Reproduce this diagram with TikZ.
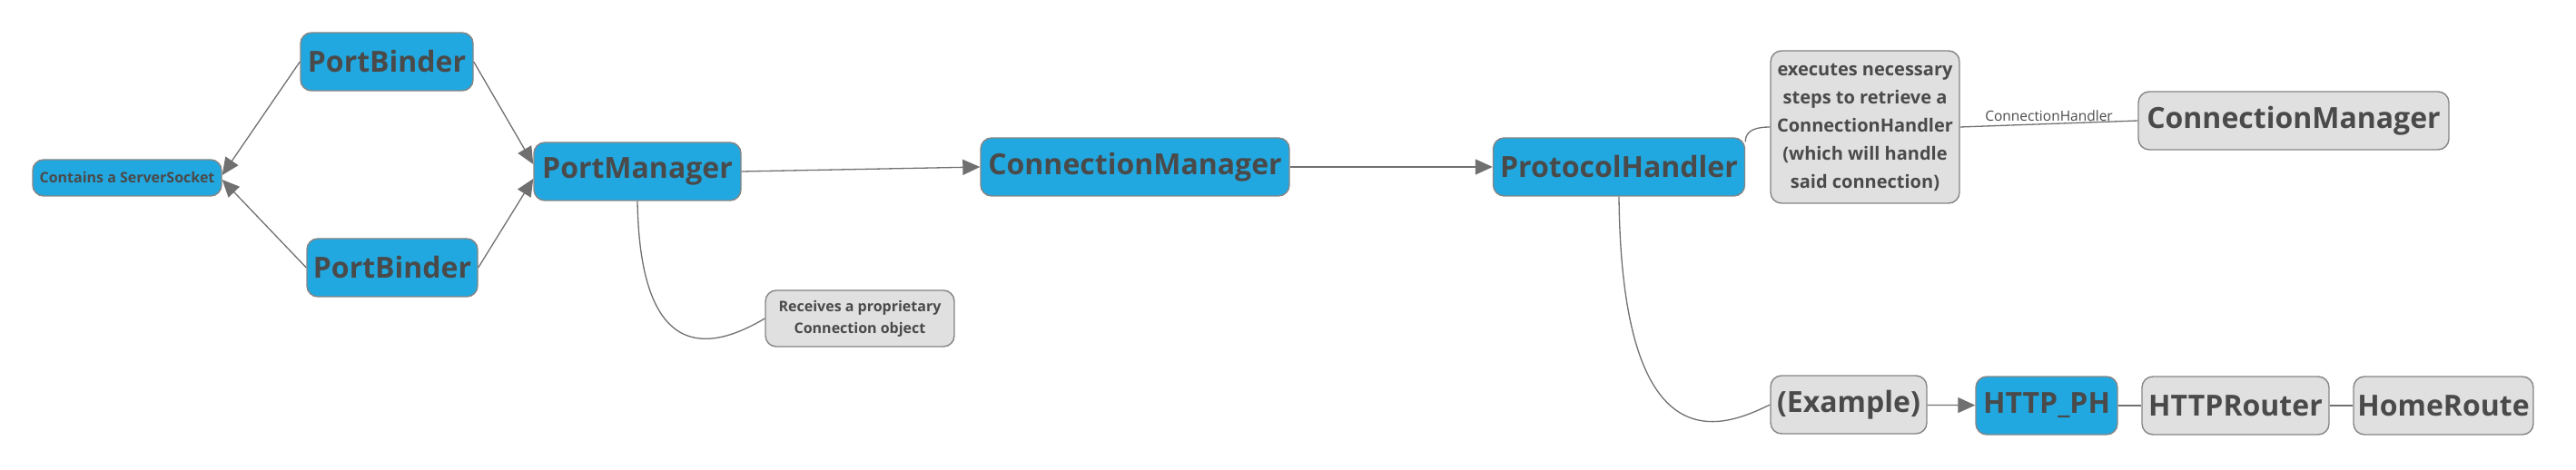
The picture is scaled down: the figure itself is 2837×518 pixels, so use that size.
\documentclass[tikz,border=0pt]{standalone}
\usepackage{fontspec}
\setmainfont{Open Sans}
\usepackage{xcolor}
\usepackage{tikz}
\usetikzlibrary{arrows.meta,positioning}
\definecolor{nodeblue}{HTML}{22A8E0}
\definecolor{nodegrey}{HTML}{E0E0E0}
\definecolor{linegrey}{HTML}{707070}
\definecolor{textgrey}{HTML}{4A4A4A}

\begin{document}
\begin{tikzpicture}[x=1pt, y=-1pt,
  box/.style={draw=linegrey!85, line width=1.4pt, rounded corners=12pt, text=textgrey,
    font=\fontsize{32}{38}\selectfont\bfseries, minimum height=64pt, inner sep=0pt, align=center},
  bluebox/.style={box, fill=nodeblue},
  greybox/.style={box, fill=nodegrey},
  note/.style={font=\fontsize{16}{24}\selectfont\bfseries},
  link/.style={draw=linegrey, line width=1.3pt},
  arr/.style={link, -{Triangle[length=19pt,width=17pt]}}]
  \useasboundingbox (0,0) rectangle (2837,518);
  % ---- binders and port manager
  \node[bluebox, note, minimum width=208pt, minimum height=40pt] (sock) at (140,196) {Contains a ServerSocket};
  \node[bluebox, minimum width=190pt] (pbA) at (426,68) {PortBinder};
  \node[bluebox, minimum width=188pt] (pbB) at (432,295) {PortBinder};
  \node[bluebox, minimum width=228pt] (pm) at (702,189) {PortManager};
  \node[greybox, note, minimum width=208pt, minimum height=62pt] (recv) at (947,351) {Receives a proprietary\\Connection object};
  % ---- connection handling
  \node[bluebox, minimum width=340pt] (cmA) at (1250,184) {ConnectionManager};
  \node[bluebox, minimum width=277pt] (ph) at (1783,184) {ProtocolHandler};
  \node[greybox, font=\fontsize{20}{31}\selectfont\bfseries, minimum width=208pt, minimum height=168pt] (steps) at (2054,140)
    {executes necessary\\steps to retrieve a\\ConnectionHandler\\(which will handle\\said connection)};
  \node[greybox, minimum width=342pt] (cmB) at (2526,133) {ConnectionManager};
  % ---- example chain
  \node[greybox, minimum width=172pt] (ex) at (2036,446) {(Example)};
  \node[bluebox, minimum width=156pt] (http) at (2254,447) {HTTP\_PH};
  \node[greybox, minimum width=206pt] (router) at (2462,447) {HTTPRouter};
  \node[greybox, minimum width=198pt] (home) at (2691,447) {HomeRoute};

  \draw[arr] (pbA.west) -- ([yshift=3pt]sock.east);
  \draw[arr] (pbB.west) -- ([yshift=-2pt]sock.east);
  \draw[arr] (pbA.east) -- ([yshift=8pt]pm.west);
  \draw[arr] (pbB.east) -- ([yshift=-8pt]pm.west);
  \draw[link] (pm.south) .. controls (705,410) and (790,382) .. (recv.west);
  \draw[arr] (pm.east) -- (cmA.west);
  \draw[arr] (cmA) -- (ph);
  \draw[link] ([yshift=-5pt]ph.north east) .. controls (1922,143) and (1935,140) .. (steps.west);
  \draw[link] (steps.east) -- node[above, inner sep=2pt, text=textgrey, font=\fontsize{15.5}{18}\selectfont] {ConnectionHandler} (cmB.west);
  \draw[link] (ph.south) .. controls (1786,520) and (1900,470) .. (ex.west);
  \draw[arr] (ex) -- (http);
  \draw[link] (http) -- (router);
  \draw[link] (router) -- (home);
\end{tikzpicture}
\end{document}
